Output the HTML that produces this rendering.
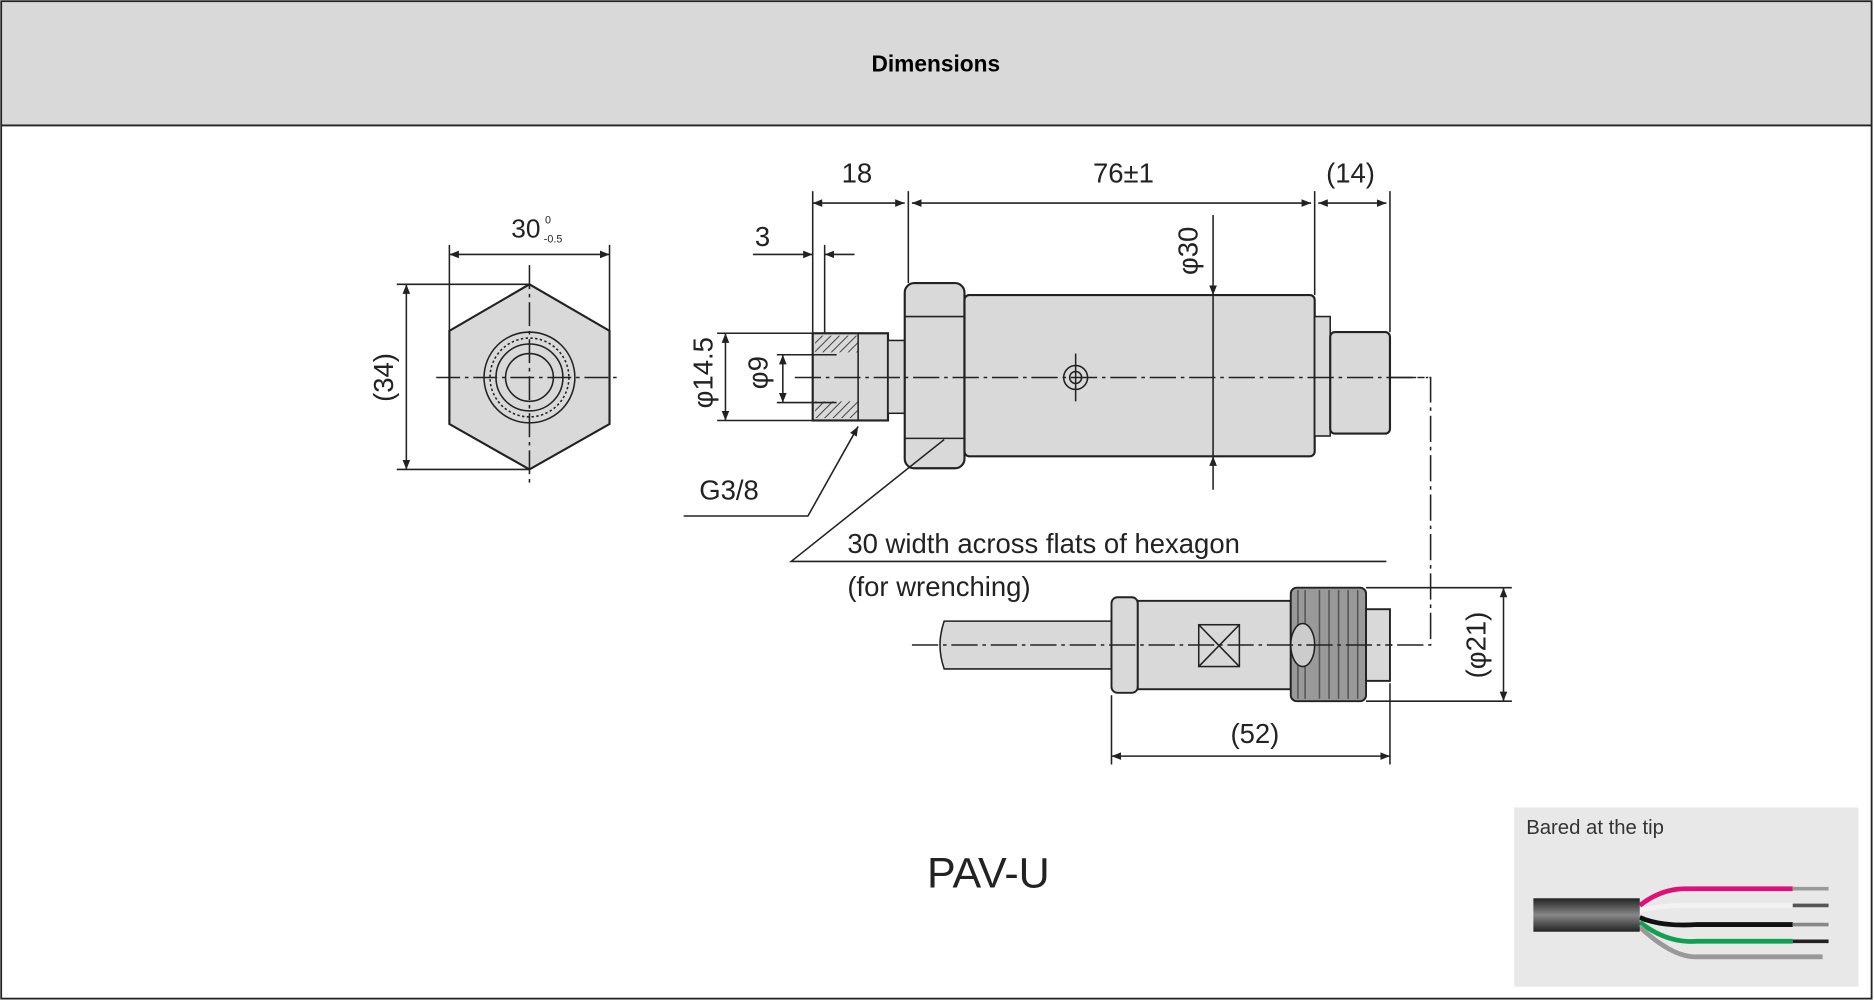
<!DOCTYPE html>
<html><head><meta charset="utf-8"><style>
html,body{margin:0;padding:0;background:#fff;}
svg{display:block;}
text{font-family:"Liberation Sans",sans-serif;fill:#222;}
</style></head><body>
<svg width="1874" height="1001" viewBox="0 0 1568 838" preserveAspectRatio="none" xmlns="http://www.w3.org/2000/svg">
<defs>
<marker id="a" viewBox="0 0 10 10" refX="10" refY="5" markerWidth="8" markerHeight="8" orient="auto-start-reverse" markerUnits="userSpaceOnUse"><path d="M0,1 L10,5 L0,9 z" fill="#222"/></marker>
<linearGradient id="cab" x1="0" y1="0" x2="0" y2="1"><stop offset="0" stop-color="#222"/><stop offset="0.5" stop-color="#888"/><stop offset="1" stop-color="#222"/></linearGradient>
<pattern id="hatch" width="5" height="5" patternUnits="userSpaceOnUse" patternTransform="rotate(45)"><rect width="5" height="5" fill="#d9d9d9"/><line x1="0" y1="0" x2="0" y2="5" stroke="#333" stroke-width="1.5"/></pattern>
</defs>
<rect x="0" y="0" width="1568" height="838" fill="#fff"/>
<rect x="1" y="1" width="1565" height="104" fill="#d9d9d9"/>
<rect x="1" y="1" width="1565" height="835" fill="none" stroke="#222" stroke-width="1.5"/>
<line x1="1" y1="105" x2="1566" y2="105" stroke="#222" stroke-width="1.5"/>
<text x="783" y="60" font-size="19" font-weight="bold" text-anchor="middle" style="fill:#000">Dimensions</text>

<g stroke="#222" stroke-width="1.3" fill="none">
<!-- hex end view -->
<polygon points="443,238 510,277 510,355 443,393 376,355 376,277" fill="#d9d9d9" stroke-width="1.8"/>
<circle cx="443" cy="316" r="38"/><circle cx="443" cy="316" r="33" stroke-dasharray="2,2"/>
<circle cx="443" cy="316" r="28"/><circle cx="443" cy="316" r="20"/>
<line x1="365" y1="316" x2="520" y2="316" stroke-dasharray="20,4,3,4"/>
<line x1="443" y1="222" x2="443" y2="405" stroke-dasharray="20,4,3,4"/>
<line x1="376" y1="205" x2="376" y2="277"/><line x1="510" y1="205" x2="510" y2="277"/>
<line x1="376" y1="213" x2="510" y2="213" marker-start="url(#a)" marker-end="url(#a)"/>
<line x1="332" y1="238" x2="443" y2="238"/><line x1="332" y1="393" x2="443" y2="393"/>
<line x1="340" y1="238" x2="340" y2="393" marker-start="url(#a)" marker-end="url(#a)"/>

<!-- side view -->
<rect x="680" y="279" width="63" height="73" fill="#d9d9d9" stroke-width="1.8"/>
<rect x="682" y="281" width="36" height="14" fill="url(#hatch)" stroke="none"/>
<rect x="682" y="336" width="36" height="14" fill="url(#hatch)" stroke="none"/>
<line x1="718" y1="279" x2="718" y2="352"/>
<rect x="743" y="285" width="14" height="61" fill="#d9d9d9"/>
<rect x="757" y="237" width="50" height="155" rx="8" fill="#d9d9d9" stroke-width="1.8"/>
<line x1="757" y1="265" x2="807" y2="265"/><line x1="757" y1="367" x2="807" y2="367"/>
<rect x="807" y="247" width="293" height="135" rx="4" fill="#d9d9d9" stroke-width="1.8"/>
<rect x="1100" y="265" width="13" height="100" fill="#d9d9d9"/>
<rect x="1113" y="278" width="50" height="85" rx="4" fill="#d9d9d9" stroke-width="1.8"/>
<circle cx="900" cy="316" r="10"/><circle cx="900" cy="316" r="5"/>
<line x1="900" y1="296" x2="900" y2="336"/>
<line x1="665" y1="316" x2="1195" y2="316" stroke-dasharray="22,4,3,4"/>
<polyline points="1163,316 1197,316 1197,540 1163,540" stroke-dasharray="22,4,3,4"/>

<line x1="680" y1="160" x2="680" y2="279"/><line x1="760" y1="160" x2="760" y2="237"/>
<line x1="1100" y1="160" x2="1100" y2="247"/><line x1="1163" y1="160" x2="1163" y2="278"/>
<line x1="680" y1="170" x2="757" y2="170" marker-start="url(#a)" marker-end="url(#a)"/>
<line x1="763" y1="170" x2="1097" y2="170" marker-start="url(#a)" marker-end="url(#a)"/>
<line x1="1103" y1="170" x2="1160" y2="170" marker-start="url(#a)" marker-end="url(#a)"/>
<line x1="690" y1="205" x2="690" y2="279"/>
<line x1="630" y1="213" x2="680" y2="213" marker-end="url(#a)"/>
<line x1="715" y1="213" x2="690" y2="213" marker-end="url(#a)"/>
<line x1="1015" y1="180" x2="1015" y2="247" marker-end="url(#a)"/>
<line x1="1015" y1="247" x2="1015" y2="382"/>
<line x1="1015" y1="410" x2="1015" y2="382" marker-end="url(#a)"/>
<line x1="600" y1="279" x2="680" y2="279"/><line x1="600" y1="352" x2="680" y2="352"/>
<line x1="607" y1="279" x2="607" y2="352" marker-start="url(#a)" marker-end="url(#a)"/>
<line x1="650" y1="297" x2="700" y2="297"/><line x1="650" y1="337" x2="700" y2="337"/>
<line x1="655" y1="297" x2="655" y2="337" marker-start="url(#a)" marker-end="url(#a)"/>
<polyline points="572,432 676,432 718,357" marker-end="url(#a)"/>
<polyline points="790,368 662,470 1160,470"/>

<!-- connector -->
<path d="M790,520 L930,520 L930,560 L790,560 Q783,540 790,520 z" fill="#d9d9d9"/>
<rect x="930" y="500" width="22" height="80" rx="5" fill="#d9d9d9" stroke-width="1.6"/>
<rect x="952" y="503" width="128" height="74" fill="#d9d9d9" stroke-width="1.6"/>
<rect x="1080" y="492" width="63" height="95" rx="5" fill="#999" stroke-width="1.6"/>
<g stroke="#555"><line x1="1086" y1="494" x2="1086" y2="585"/><line x1="1092" y1="494" x2="1092" y2="585"/><line x1="1104" y1="494" x2="1104" y2="585"/><line x1="1112" y1="494" x2="1112" y2="585"/><line x1="1120" y1="494" x2="1120" y2="585"/><line x1="1128" y1="494" x2="1128" y2="585"/><line x1="1136" y1="494" x2="1136" y2="585"/></g>
<ellipse cx="1090" cy="540" rx="10" ry="18" fill="#ccc"/>
<rect x="1143" y="510" width="20" height="60" fill="#d9d9d9" stroke-width="1.6"/>
<rect x="1003" y="523" width="34" height="35"/>
<line x1="1003" y1="523" x2="1037" y2="558"/><line x1="1037" y1="523" x2="1003" y2="558"/>
<line x1="763" y1="540" x2="1165" y2="540" stroke-dasharray="22,4,3,4"/>
<line x1="1143" y1="492" x2="1265" y2="492"/><line x1="1143" y1="587" x2="1265" y2="587"/>
<line x1="1258" y1="492" x2="1258" y2="587" marker-start="url(#a)" marker-end="url(#a)"/>
<line x1="930" y1="582" x2="930" y2="640"/><line x1="1163" y1="572" x2="1163" y2="640"/>
<line x1="930" y1="633" x2="1163" y2="633" marker-start="url(#a)" marker-end="url(#a)"/>
</g>

<g font-size="23">
<text x="440" y="199" text-anchor="middle" font-size="22">30</text>
<text x="456" y="187" font-size="9">0</text><text x="455" y="203" font-size="9">-0.5</text>
<text transform="translate(329,316) rotate(-90)" text-anchor="middle">(34)</text>
<text x="717" y="153" text-anchor="middle">18</text>
<text x="940" y="153" text-anchor="middle">76±1</text>
<text x="1130" y="153" text-anchor="middle">(14)</text>
<text x="638" y="206" text-anchor="middle">3</text>
<text transform="translate(1002,210) rotate(-90)" text-anchor="middle">φ30</text>
<text transform="translate(596,312) rotate(-90)" text-anchor="middle">φ14.5</text>
<text transform="translate(642,312) rotate(-90)" text-anchor="middle">φ9</text>
<text x="610" y="418" text-anchor="middle">G3/8</text>
<text x="709" y="463">30 width across flats of hexagon</text>
<text x="709" y="499">(for wrenching)</text>
<text transform="translate(1243,540) rotate(-90)" text-anchor="middle">(φ21)</text>
<text x="1050" y="622" text-anchor="middle">(52)</text>
<text x="827" y="743" text-anchor="middle" font-size="36">PAV-U</text>
</g>

<!-- inset -->
<rect x="1267" y="676" width="288" height="150" fill="#e8e8e8"/>
<text x="1277" y="698" font-size="17" style="fill:#333">Bared at the tip</text>
<g fill="none" stroke-width="4">
<path d="M1372,758 Q1390,744 1410,744 L1500,744" stroke="#e0107a"/>
<line x1="1500" y1="744" x2="1530" y2="744" stroke="#999" stroke-width="3"/>
<path d="M1372,762 Q1390,758 1410,758 L1500,758" stroke="#f2f2f2"/>
<line x1="1500" y1="758" x2="1530" y2="758" stroke="#555" stroke-width="3"/>
<path d="M1372,768 Q1390,776 1420,774 L1500,774" stroke="#111"/>
<line x1="1500" y1="774" x2="1530" y2="774" stroke="#888" stroke-width="3"/>
<path d="M1372,772 Q1395,790 1420,788 L1500,788" stroke="#10a050"/>
<line x1="1500" y1="788" x2="1530" y2="788" stroke="#222" stroke-width="3"/>
<path d="M1372,776 Q1400,802 1420,801 L1525,801" stroke="#999"/>
</g>
<rect x="1283" y="752" width="89" height="28" fill="url(#cab)"/>
</svg>
</body></html>
